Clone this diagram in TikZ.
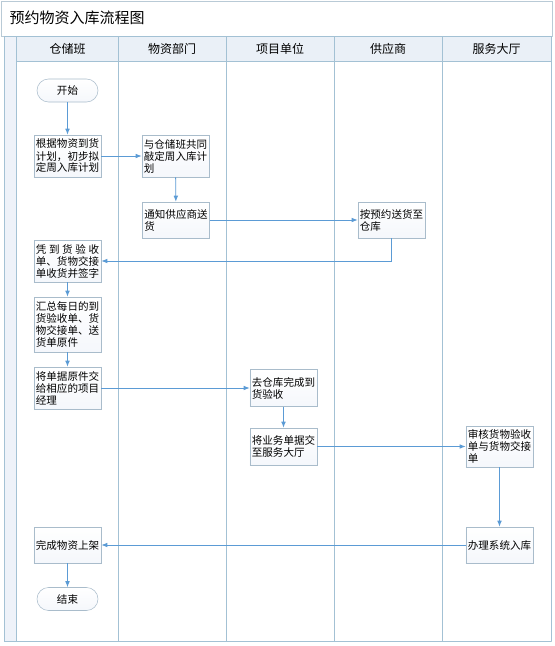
\documentclass[tikz,border=0pt]{standalone}
\usepackage{fontspec}
\setmainfont{Noto Sans CJK SC}
\usetikzlibrary{arrows.meta}
\newdimen\px \px=0.75pt
\definecolor{laneline}{HTML}{A3C1D4}
\definecolor{frameline}{HTML}{B9CAD6}
\definecolor{flowblue}{HTML}{5B9BD5}
\definecolor{boxline}{HTML}{A9BCCB}
\definecolor{headfill}{HTML}{EAF0F7}
\definecolor{stripfill}{HTML}{EEF2F9}
\tikzset{
  stepbox/.style={draw=boxline, top color=white, bottom color=stripfill!60, inner sep=2\px,
    minimum width=67\px, align=left, font=\fontsize{7.9pt}{9pt}\selectfont},
  termbox/.style={draw=boxline, top color=white, bottom color=stripfill!60, rounded corners=11.5\px,
    minimum width=61\px, minimum height=23\px, font=\fontsize{7.9pt}{9pt}\selectfont},
  flow/.style={draw=flowblue, line width=0.65pt, -{Latex[length=4.5pt,width=3.5pt]}},
  lanehead/.style={font=\fontsize{9pt}{11pt}\selectfont}
}
\begin{document}
\begin{tikzpicture}[x=0.75pt,y=-0.75pt]
  \useasboundingbox (0,0) rectangle (554,646);
  % frame and lanes
  \draw[frameline, fill=white] (1,1) rectangle (552,36);
  \node[anchor=west, font=\fontsize{11.25pt}{13pt}\selectfont] (title) at (5,18) {预约物资入库流程图};
  \draw[frameline, fill=white] (4,36) rectangle (551,641);
  \draw[laneline, fill=stripfill] (4,36) rectangle (16,641);
  \draw[laneline, fill=headfill] (16,36) rectangle (551,61);
  \draw[laneline] (118,36) -- (118,641);
  \draw[laneline] (226,36) -- (226,641);
  \draw[laneline] (334,36) -- (334,641);
  \draw[laneline] (442,36) -- (442,641);
  \draw[laneline] (16,36) -- (16,641);
  \draw[laneline] (551,36) -- (551,641);
  \draw[laneline] (4,641) -- (551,641);
  \node[lanehead] (h1) at (67.5,48.5) {仓储班};
  \node[lanehead] (h2) at (172,48.5) {物资部门};
  \node[lanehead] (h3) at (280,48.5) {项目单位};
  \node[lanehead] (h4) at (388,48.5) {供应商};
  \node[lanehead] (h5) at (496.5,48.5) {服务大厅};
  % steps
  \node[termbox] (start) at (67.5,90.5) {开始};
  \node[stepbox, minimum height=42\px] (plan) at (67.5,156) {根据物资到货\\计划，初步拟\\定周入库计划};
  \node[stepbox, minimum height=42\px] (confirm) at (175.5,156) {与仓储班共同\\敲定周入库计\\划};
  \node[stepbox, minimum height=36\px] (notify) at (176,220) {通知供应商送\\货};
  \node[stepbox, minimum height=36\px] (deliver) at (391.5,220) {按预约送货至\\仓库};
  \node[stepbox, minimum height=42\px] (receive) at (67.5,261) {\makebox[6em][s]{凭 到 货 验 收}\\单、货物交接\\单收货并签字};
  \node[stepbox, minimum height=55\px] (summary) at (67.5,324.5) {汇总每日的到\\货验收单、货\\物交接单、送\\货单原件};
  \node[stepbox, minimum height=42\px] (handover) at (67.5,388) {将单据原件交\\给相应的项目\\经理};
  \node[stepbox, minimum height=37\px] (inspect) at (283.5,388) {去仓库完成到\\货验收};
  \node[stepbox, minimum height=37\px] (submit) at (283.5,446.5) {将业务单据交\\至服务大厅};
  \node[stepbox, minimum height=41\px] (review) at (499.5,446.5) {审核货物验收\\单与货物交接\\单};
  \node[stepbox, minimum height=36\px] (enter) at (499.5,545) {办理系统入库};
  \node[stepbox, minimum height=36\px] (shelve) at (67.5,545) {完成物资上架};
  \node[termbox] (finish) at (67.5,599) {结束};
  % connectors
  \draw[flow] (start) -- (plan);
  \draw[flow] (plan) -- (confirm);
  \draw[flow] (confirm) -- (notify);
  \draw[flow] (notify) -- (deliver);
  \draw[flow] (deliver) |- (receive);
  \draw[flow] (receive) -- (summary);
  \draw[flow] (summary) -- (handover);
  \draw[flow] (handover) -- (inspect);
  \draw[flow] (inspect) -- (submit);
  \draw[flow] (submit) -- (review);
  \draw[flow] (review) -- (enter);
  \draw[flow] (enter) -- (shelve);
  \draw[flow] (shelve) -- (finish);
\end{tikzpicture}
\end{document}
